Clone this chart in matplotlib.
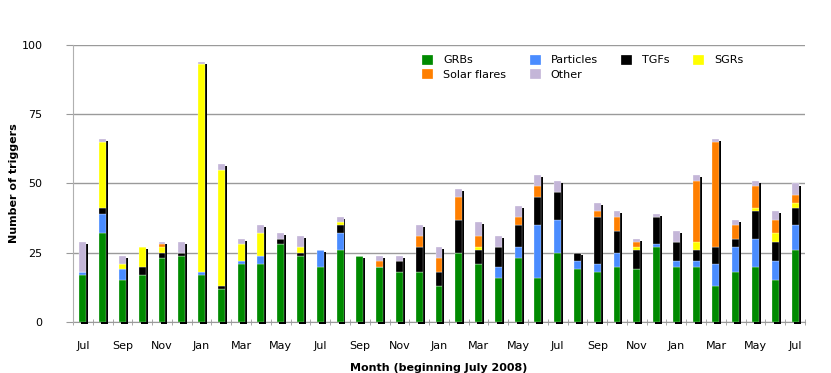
import numpy as np
import matplotlib
matplotlib.use('Agg')
import matplotlib.pyplot as plt

# Month labels (July 2008 - July 2011), one bar per month
months = ['Jul', 'Aug', 'Sep', 'Oct', 'Nov', 'Dec', 'Jan', 'Feb', 'Mar', 'Apr', 'May', 'Jun',
          'Jul', 'Aug', 'Sep', 'Oct', 'Nov', 'Dec', 'Jan', 'Feb', 'Mar', 'Apr', 'May', 'Jun',
          'Jul', 'Aug', 'Sep', 'Oct', 'Nov', 'Dec', 'Jan', 'Feb', 'Mar', 'Apr', 'May', 'Jun',
          'Jul']

# Trigger counts per month for each class
grbs = [17, 32, 15, 17, 23, 24, 17, 12, 21, 21, 28, 24,
        20, 26, 24, 20, 18, 18, 13, 25, 21, 16, 23, 16,
        25, 19, 18, 20, 19, 27, 20, 20, 13, 18, 20, 15,
        26]
particles = [1, 7, 4, 0, 0, 0, 1, 0, 1, 3, 0, 0,
             6, 6, 0, 0, 0, 0, 0, 0, 0, 4, 4, 19,
             12, 3, 3, 5, 0, 1, 2, 2, 8, 9, 10, 7,
             9]
tgfs = [0, 2, 0, 3, 2, 1, 0, 1, 0, 0, 2, 1,
        0, 3, 0, 0, 4, 9, 5, 12, 5, 7, 8, 10,
        10, 3, 17, 8, 7, 10, 7, 4, 6, 3, 10, 7,
        6]
sgrs = [0, 24, 2, 7, 2, 0, 75, 42, 6, 8, 0, 2,
        0, 1, 0, 0, 0, 0, 0, 0, 1, 0, 0, 0,
        0, 0, 0, 0, 1, 0, 0, 3, 0, 0, 1, 3,
        2]
solar_flares = [0, 0, 0, 0, 1, 0, 0, 0, 0, 0, 0, 0,
                0, 0, 0, 2, 0, 4, 5, 8, 4, 0, 3, 4,
                0, 0, 2, 5, 2, 0, 0, 22, 38, 5, 8, 5,
                3]
other = [11, 1, 3, 0, 1, 4, 1, 2, 2, 3, 2, 4,
         0, 2, 0, 2, 2, 4, 4, 3, 5, 4, 4, 4,
         4, 0, 3, 2, 1, 1, 4, 2, 1, 2, 2, 3,
         4]

# Stack order bottom -> top, with colours
series = [('GRBs', grbs, '#008a00'),
          ('Particles', particles, '#4a8cff'),
          ('TGFs', tgfs, '#000000'),
          ('SGRs', sgrs, '#ffff00'),
          ('Solar flares', solar_flares, '#ff7f00'),
          ('Other', other, '#c4b6d8')]

x = np.arange(len(months))
width = 0.35

fig = plt.figure(figsize=(8.31, 3.73), dpi=100)
ax = fig.add_axes([0.0878, 0.1367, 0.8809, 0.7427])

# Drop shadow behind each stacked bar
totals = np.sum([s[1] for s in series], axis=0)
ax.bar(x + 0.1, totals, width, bottom=-0.75, color='black', zorder=2, clip_on=False)

# Stacked bars
bottom = np.zeros(len(months))
bars = {}
for name, vals, col in series:
    vals = np.array(vals)
    bars[name] = ax.bar(x, vals, width, bottom=bottom, color=col, zorder=3,
                        edgecolor='white', linewidth=0.2)
    bottom = bottom + vals

# Axes styling
ax.set_xlim(-0.45, 36.5)
ax.set_ylim(0, 100)
ax.set_yticks([0, 25, 50, 75, 100])
ax.set_yticklabels(['0', '25', '50', '75', '100'], fontsize=8)
ax.yaxis.grid(True, color='#9a9a9a', linewidth=1.0, zorder=0)
ax.set_axisbelow(True)
for sp in ['top', 'right']:
    ax.spines[sp].set_visible(False)
ax.spines['left'].set_color('#b0b0b0')
ax.spines['bottom'].set_color('#9a9a9a')
ax.spines['bottom'].set_zorder(1)
ax.tick_params(axis='y', length=5, color='#9a9a9a', pad=17)

ax.set_xticks(x[::2])
ax.set_xticklabels(months[::2], fontsize=8)
ax.set_xticks(np.arange(-0.5, 36.6, 1), minor=True)
ax.tick_params(axis='x', which='major', length=0, pad=14)
ax.tick_params(axis='x', which='minor', length=4, direction='inout', color='#9a9a9a')

ax.set_xlabel('Month (beginning July 2008)', fontsize=8, fontweight='bold', labelpad=8)
ax.set_ylabel('Number of triggers', fontsize=8, fontweight='bold', labelpad=2)

# Legend: row 1 GRBs, Particles, TGFs, SGRs; row 2 Solar flares, Other
order = ['GRBs', 'Solar flares', 'Particles', 'Other', 'TGFs', 'SGRs']
ax.legend([bars[n] for n in order], order, ncol=4, loc='upper left',
          bbox_to_anchor=(0.477, 0.965), frameon=False, fontsize=8,
          handlelength=1.0, handleheight=1.0, handletextpad=0.9,
          columnspacing=2.1, labelspacing=0.3, borderpad=0, borderaxespad=0)

fig.savefig('out.png', dpi=100)
